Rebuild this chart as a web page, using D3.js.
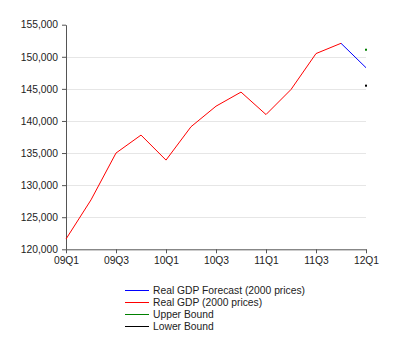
<!DOCTYPE html>
<html><head><meta charset="utf-8">
<script src="https://cdn.jsdelivr.net/npm/d3@7"></script>
<style>body{margin:0;background:#fff;} text{font-family:Arial,"Liberation Sans",sans-serif;}</style>
</head><body>
<svg id="c" width="400" height="356"></svg>
<script>
const quarters = ["09Q1","09Q2","09Q3","09Q4","10Q1","10Q2","10Q3","10Q4","11Q1","11Q2","11Q3","11Q4","12Q1"];
const xTickLabels = ["09Q1","09Q3","10Q1","10Q3","11Q1","11Q3","12Q1"];
const realGDP = [121600,127700,135000,137800,133900,139100,142300,144500,141000,144900,150500,152100,null];
const forecast = [null,null,null,null,null,null,null,null,null,null,null,152100,148300];
const upperBound = [null,null,null,null,null,null,null,null,null,null,null,null,151100];
const lowerBound = [null,null,null,null,null,null,null,null,null,null,null,null,145500];
const yTicks = [120000,125000,130000,135000,140000,145000,150000,155000];
const legendLabels = ["Real GDP Forecast (2000 prices)","Real GDP (2000 prices)","Upper Bound","Lower Bound"];
const colors = ["#0000ff","#ff0000","#008000","#000000"];

const svg = d3.select("#c");
const m = {l:66, r:34, t:24.7, b:106.7};
const W = 400, H = 356;
const x = d3.scalePoint().domain(quarters).range([m.l, W - m.r]);
const y = d3.scaleLinear().domain([120000,155000]).range([H - m.b, m.t]);

// gridlines
svg.append("g").selectAll("line").data(yTicks.filter(d => d > 120000 && d < 155000)).join("line")
  .attr("x1", m.l).attr("x2", W - m.r)
  .attr("y1", d => Math.round(y(d)) + 0.5).attr("y2", d => Math.round(y(d)) + 0.5)
  .attr("stroke", "#e6e6e6").attr("stroke-width", 1);

const fmt = d3.format(",");
const yAxis = svg.append("g").attr("transform", `translate(${m.l},0)`)
  .call(d3.axisLeft(y).tickValues(yTicks).tickFormat(fmt).tickSize(4).tickSizeOuter(0).tickPadding(4));
const xAxis = svg.append("g").attr("transform", `translate(0,${H - m.b})`)
  .call(d3.axisBottom(x).tickValues(xTickLabels).tickSize(4).tickSizeOuter(0).tickPadding(3));
[yAxis, xAxis].forEach(a => {
  a.selectAll("path,line").attr("stroke", "#555");
  a.selectAll("text").attr("fill", "#222").style("font-size", "10.3px");
});

const line = d3.line().defined(d => d.v != null).x(d => x(d.q)).y(d => y(d.v));
const mk = arr => quarters.map((q, i) => ({q, v: arr[i]}));
svg.append("path").datum(mk(realGDP)).attr("d", line).attr("fill", "none").attr("stroke", colors[1]).attr("stroke-width", 1);
svg.append("path").datum(mk(forecast)).attr("d", line).attr("fill", "none").attr("stroke", colors[0]).attr("stroke-width", 1);
[[upperBound, colors[2]], [lowerBound, colors[3]]].forEach(([arr, c]) => {
  svg.append("g").selectAll("rect").data(mk(arr).filter(d => d.v != null)).join("rect")
    .attr("x", d => x(d.q) - 1).attr("y", d => y(d.v) - 1).attr("width", 2).attr("height", 2).attr("fill", c);
});

// legend
const lg = svg.append("g").attr("transform", "translate(125,290)");
legendLabels.forEach((t, i) => {
  const g = lg.append("g").attr("transform", `translate(0,${i * 12})`);
  g.append("line").attr("x1", 0).attr("x2", 24).attr("y1", 0.5).attr("y2", 0.5).attr("stroke", colors[i]).attr("stroke-width", 1);
  g.append("text").attr("x", 28).attr("y", 0).attr("dy", "0.35em").attr("fill", "#222").style("font-size", "10.3px").text(t);
});
</script>
</body></html>
